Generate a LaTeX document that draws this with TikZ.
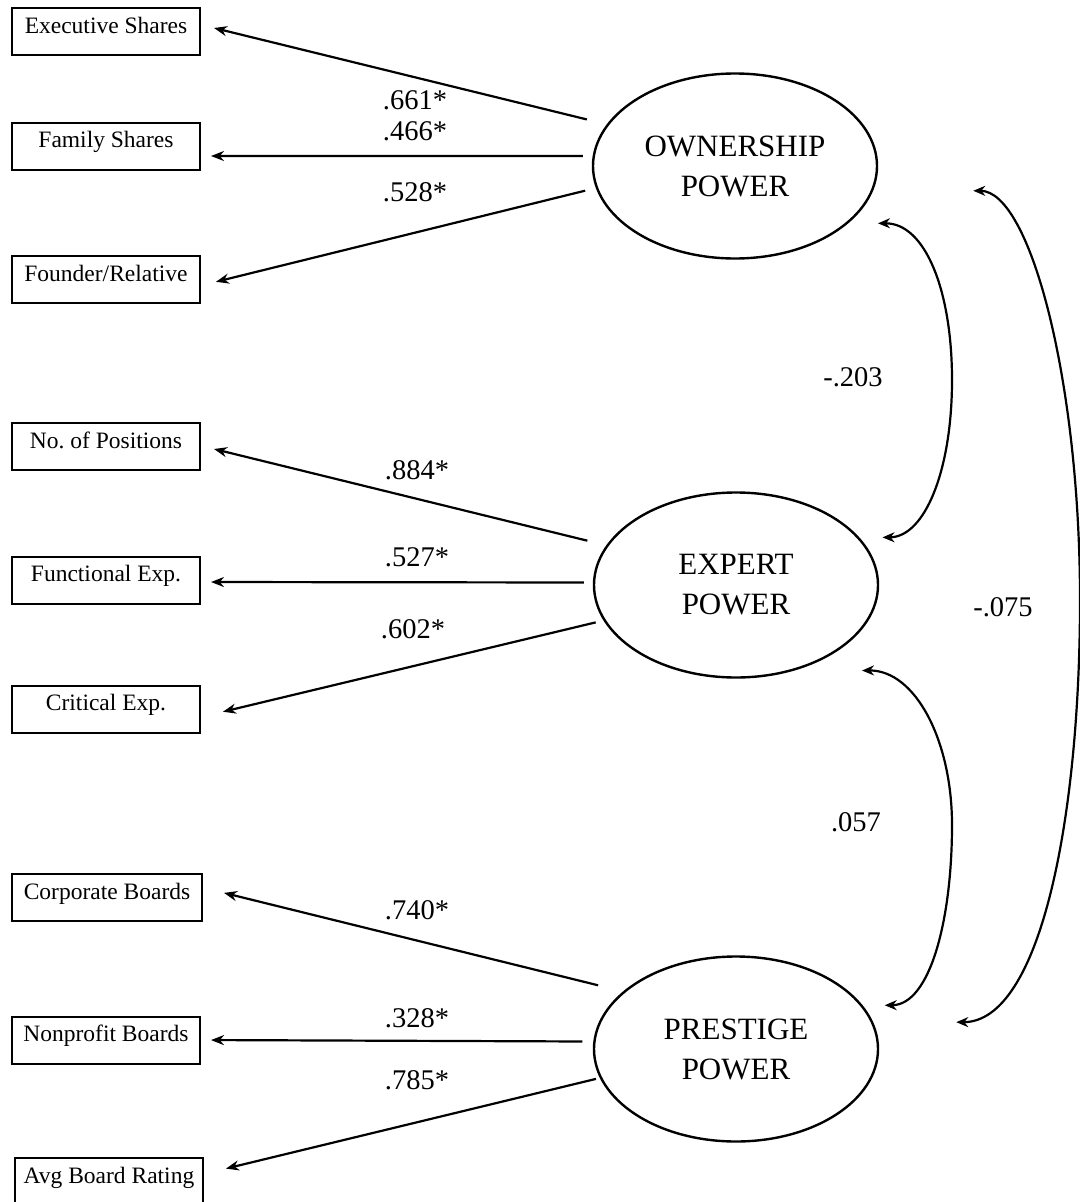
\documentclass[tikz,border=0pt]{standalone}
\usepackage{fontspec}
\setmainfont{Liberation Serif}
\usetikzlibrary{shapes.geometric,arrows.meta}
\begin{document}
\begin{tikzpicture}[x=1pt,y=-1pt,
  indicator/.style={draw,line width=2pt,rectangle,minimum width=188pt,
    inner xsep=0pt,inner ysep=0pt,text height=25pt,text depth=22pt,
    font=\fontsize{23.5}{28}\selectfont},
  factor/.style={draw,line width=2.4pt,ellipse,minimum width=284pt,
    minimum height=185pt,inner sep=0pt,align=center,
    font=\fontsize{31}{40}\selectfont},
  load/.style={line width=2.2pt,-{Stealth[length=13pt,width=10pt]}},
  cov/.style={line width=2.2pt,
    {Stealth[length=12pt,width=10pt]}-{Stealth[length=12pt,width=10pt]}},
  coef/.style={font=\fontsize{28.5}{34}\selectfont,inner sep=0pt}
]
\useasboundingbox (0,0) rectangle (1079,1202);

% observed indicators
\node[indicator] (exec)  at (106,31.5)  {Executive Shares};
\node[indicator] (fam)   at (106,146)   {Family Shares};
\node[indicator] (found) at (106,279.5) {Founder/Relative};
\node[indicator] (npos)  at (106,446.5) {No.\ of Positions};
\node[indicator] (func)  at (106,580)   {Functional Exp.};
\node[indicator] (crit)  at (106,709)   {Critical Exp.};
\node[indicator,minimum width=190pt] (corp) at (107,897.5) {Corporate Boards};
\node[indicator] (nonp)  at (106,1040)  {Nonprofit Boards};
\node[indicator] (avg)   at (109,1181.5) {Avg Board Rating};

% latent factors
\node[factor] (own) at (735,166)  {OWNERSHIP\\POWER};
\node[factor] (exp) at (736,585)  {EXPERT\\POWER};
\node[factor] (pre) at (736,1049) {PRESTIGE\\POWER};

% factor loadings
\draw[load,shorten <=20.5pt,shorten >=13.4pt] (own.162.6) -- ([yshift=6.7pt]exec.east);
\draw[load,shorten <=9.7pt,shorten >=10pt]    (own.176.4) -- ([yshift=-10pt]fam.east);
\draw[load,shorten <=11pt,shorten >=15.4pt]   (own.189.7) -- ([yshift=-6pt]found.east);
\draw[load,shorten <=19.5pt,shorten >=13.4pt] (exp.163.5) -- ([yshift=0.7pt]npos.east);
\draw[load,shorten <=9pt,shorten >=10pt]      (exp.179)   -- ([yshift=-2pt]func.east);
\draw[load,shorten <=8pt,shorten >=22.6pt]    (exp.195)   -- ([yshift=-8pt]crit.east);
\draw[load,shorten <=25.7pt,shorten >=21.6pt] (pre.153.7) -- ([yshift=9.8pt]corp.east);
\draw[load,shorten <=11pt,shorten >=10pt]     (pre.177.2) -- (nonp.east);
\draw[load,shorten <=4pt,shorten >=22.6pt]    (pre.192.7) -- ([yshift=7.6pt]avg.east);

\node[coef] (c1) at (415,100)  {.661*};
\node[coef] (c2) at (415,131)  {.466*};
\node[coef] (c3) at (415,192)  {.528*};
\node[coef] (c4) at (417,470)  {.884*};
\node[coef] (c5) at (417,557)  {.527*};
\node[coef] (c6) at (413,629)  {.602*};
\node[coef] (c7) at (417,910)  {.740*};
\node[coef] (c8) at (417,1018) {.328*};
\node[coef] (c9) at (417,1080) {.785*};

% factor covariances
\draw[cov,shorten <=30pt,shorten >=23pt] (own.-27)
  .. controls (925,223) and (952,290) .. (952,380)
  .. controls (952,470) and (925,537) .. (exp.21.6);
\draw[cov,shorten <=70pt,shorten >=22pt] (exp.-57.4)
  .. controls (915,670) and (952,740) .. (952,825)
  .. controls (952,920) and (930,1005) .. (pre.19.4);
\draw[cov,shorten <=100pt,shorten >=83pt] (own.-10.4)
  .. controls (1030,191) and (1080,380) .. (1080,600)
  .. controls (1080,820) and (1040,1022) .. (pre.11.2);

\node[coef] (r1) at (853,377)  {-.203};
\node[coef] (r2) at (856,822)  {.057};
\node[coef] (r3) at (1003,607) {-.075};
\end{tikzpicture}
\end{document}
